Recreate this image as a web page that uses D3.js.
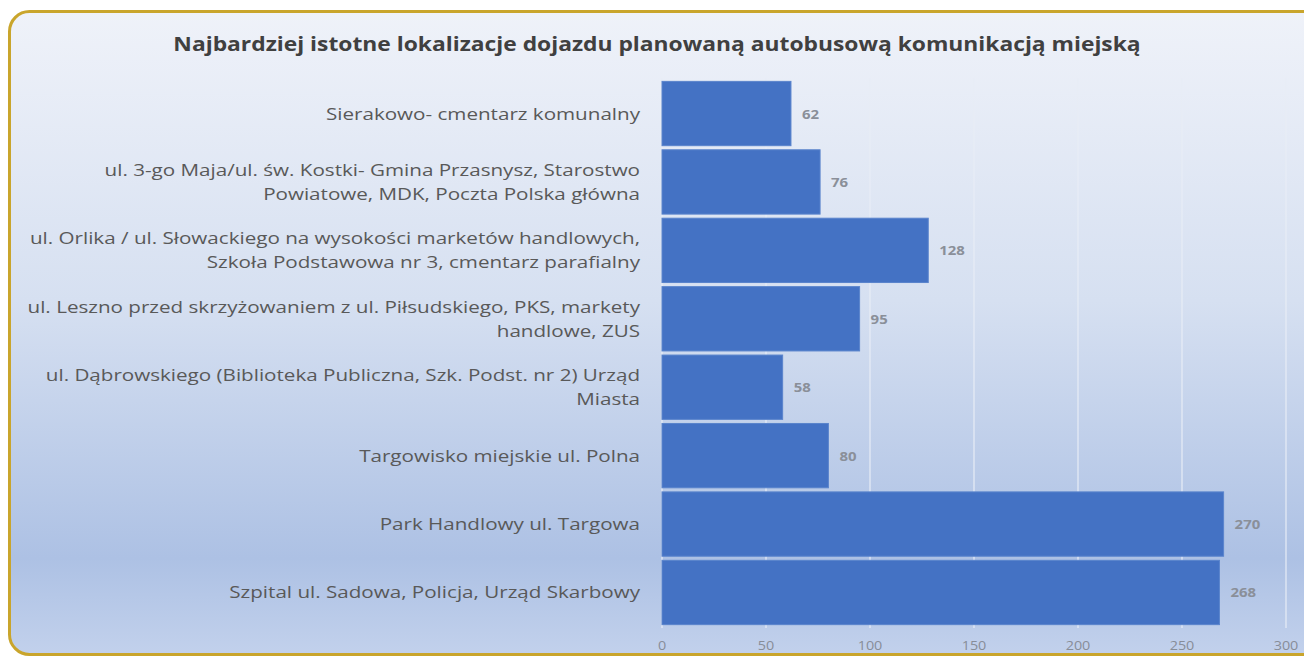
<!DOCTYPE html>
<html>
<head>
<meta charset="utf-8">
<script src="https://cdn.jsdelivr.net/npm/d3@7"></script>
<style>
  body { margin: 0; background: #fff; }
  svg { display: block; }
</style>
</head>
<body>
<div id="chart"></div>
<script>
const title = "Najbardziej istotne lokalizacje dojazdu planowaną autobusową komunikacją miejską";

const categories = [
    "Sierakowo- cmentarz komunalny",
    "ul. 3-go Maja/ul. św. Kostki- Gmina Przasnysz, Starostwo\nPowiatowe, MDK, Poczta Polska główna",
    "ul. Orlika / ul. Słowackiego na wysokości marketów handlowych,\nSzkoła Podstawowa nr 3, cmentarz parafialny",
    "ul. Leszno przed skrzyżowaniem z ul. Piłsudskiego, PKS, markety\nhandlowe, ZUS",
    "ul. Dąbrowskiego (Biblioteka Publiczna, Szk. Podst. nr 2) Urząd\nMiasta",
    "Targowisko miejskie ul. Polna",
    "Park Handlowy ul. Targowa",
    "Szpital ul. Sadowa, Policja, Urząd Skarbowy"
];
const values = [62, 76, 128, 95, 58, 80, 270, 268];
const xTicks = [0, 50, 100, 150, 200, 250, 300];

const W = 1304, H = 659;
const font = "'Open Sans', 'DejaVu Sans', sans-serif";

let svg = d3.select("#chart").append("svg")
    .attr("width", W)
    .attr("height", H);

let defs = svg.append("defs");
let grad = defs.append("linearGradient")
    .attr("id", "bg")
    .attr("x1", 0).attr("y1", 0).attr("x2", 0).attr("y2", 1);
grad.append("stop").attr("offset", "0%").attr("stop-color", "#eff2f9");
grad.append("stop").attr("offset", "45%").attr("stop-color", "#d6e0f1");
grad.append("stop").attr("offset", "85%").attr("stop-color", "#adc1e4");
grad.append("stop").attr("offset", "100%").attr("stop-color", "#c2d1ec");

// frame
svg.append("rect")
    .attr("x", 9.5).attr("y", 11.5)
    .attr("width", 1320).attr("height", 643)
    .attr("rx", 20).attr("ry", 20)
    .attr("fill", "url(#bg)")
    .attr("stroke", "#c9a52c")
    .attr("stroke-width", 3);

// text in the picture is a bit stretched sideways
svg.append("text")
    .attr("transform", "translate(657,51) scale(1.17,1)")
    .attr("text-anchor", "middle")
    .style("font-family", font)
    .style("font-size", "19.5px")
    .style("font-weight", "bold")
    .style("fill", "#404040")
    .text(title);

let x = d3.scaleLinear().domain([0, 300]).range([662, 1286]);
let y = d3.scaleBand().domain(categories).range([80, 626]).paddingInner(0.06).paddingOuter(0.02);

// gridlines
svg.append("g").selectAll("line")
    .data(xTicks)
    .enter()
    .append("line")
    .attr("x1", d => x(d)).attr("x2", d => x(d))
    .attr("y1", 78).attr("y2", 628)
    .attr("stroke", "#e8edf6")
    .attr("stroke-width", 1.2);

// bars
svg.append("g").selectAll("rect")
    .data(values)
    .enter()
    .append("rect")
    .attr("x", x(0))
    .attr("y", (d, i) => y(categories[i]))
    .attr("width", d => x(d) - x(0))
    .attr("height", y.bandwidth())
    .attr("fill", "#4472c4")
    .attr("stroke", "#5a84cc")
    .attr("stroke-width", 1);

// value labels
svg.append("g").selectAll("text")
    .data(values)
    .enter()
    .append("text")
    .attr("transform", (d, i) => "translate(" + (x(d) + 11) + "," + (y(categories[i]) + y.bandwidth() / 2 + 5) + ") scale(1.15,1)")
    .style("font-family", font)
    .style("font-size", "13px")
    .style("font-weight", "bold")
    .style("fill", "#8a8f99")
    .text(d => d);

// category labels
let labels = svg.append("g").selectAll("text")
    .data(categories)
    .enter()
    .append("text")
    .attr("text-anchor", "end")
    .attr("transform", "translate(640,0) scale(1.25,1)")
    .style("font-family", font)
    .style("font-size", "16.5px")
    .style("fill", "#595959");

labels.each(function(d) {
    let lines = d.split("\n");
    let cy = y(d) + y.bandwidth() / 2;
    let lh = 24;
    let top = cy - (lines.length - 1) * lh / 2 + 6;
    lines.forEach((ln, k) => {
        d3.select(this).append("tspan")
            .attr("x", 0)
            .attr("y", top + k * lh)
            .text(ln);
    });
});

// x axis tick labels
svg.append("g").selectAll("text")
    .data(xTicks)
    .enter()
    .append("text")
    .attr("transform", d => "translate(" + x(d) + ",650) scale(1.2,1)")
    .attr("text-anchor", "middle")
    .style("font-family", font)
    .style("font-size", "12px")
    .style("fill", "#878d98")
    .text(d => d);
</script>
</body>
</html>
